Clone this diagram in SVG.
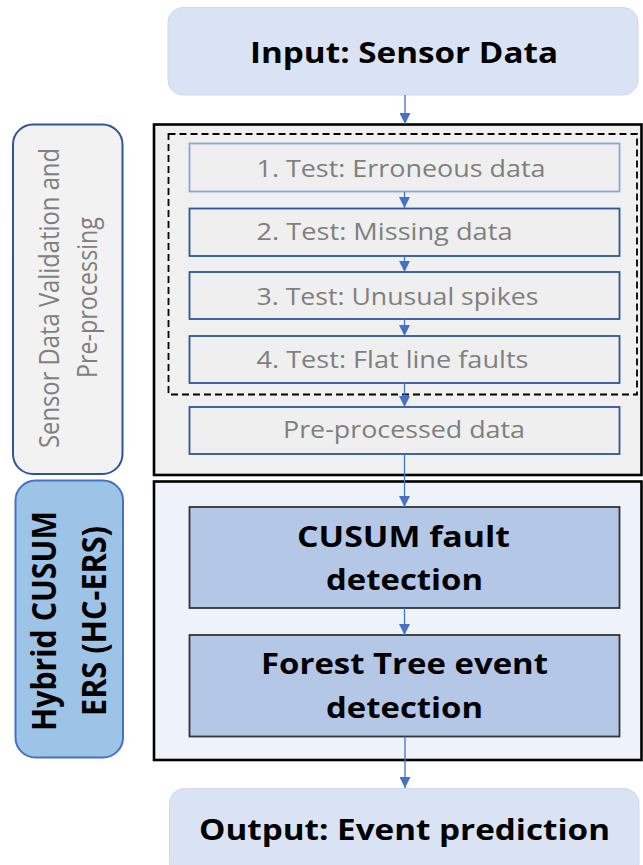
<svg xmlns="http://www.w3.org/2000/svg" width="643" height="865" viewBox="0 0 643 865">
  <style>
    .io { fill: #dae3f3; stroke: #cfd8ea; stroke-width: 1; }
    .frame-a { fill: #f0f0f0; stroke: #000; stroke-width: 2.6; }
    .frame-b { fill: #eef2f9; stroke: #000; stroke-width: 2.6; }
    .dash { fill: none; stroke: #000; stroke-width: 1.8; stroke-dasharray: 7 4; }
    .test { fill: #efefef; stroke: #2f5597; stroke-width: 1.8; }
    .test-light { fill: #efefef; stroke: #8aa5d6; stroke-width: 1.8; }
    .stage { fill: #b4c7e7; stroke: #333; stroke-width: 1.8; }
    .side-a { fill: #f2f2f2; stroke: #2f5597; stroke-width: 2; }
    .side-b { fill: #9dc3e6; stroke: #4472c4; stroke-width: 2; }
    .bold { font-family: "Open Sans", "Noto Sans", sans-serif; font-weight: 700; fill: #000; }
    .grey { font-family: "Open Sans", "Noto Sans", sans-serif; font-weight: 400; fill: #7f7f7f; }
    .conn { stroke: #4472c4; stroke-width: 1.3; fill: none; marker-end: url(#head); }
  </style>
  <defs>
    <marker id="head" markerUnits="userSpaceOnUse" markerWidth="12" markerHeight="11" refX="11" refY="5.5" orient="auto">
      <path d="M0,0 L11,5.5 L0,11 z" fill="#4472c4"/>
    </marker>
  </defs>

  <!-- container frames -->
  <g id="frame-validation">
    <rect class="frame-a" x="154" y="124.5" width="487.5" height="350.5"/>
    <rect class="dash" x="168.5" y="134" width="468.5" height="260.5"/>
  </g>
  <g id="frame-hcers">
    <rect class="frame-b" x="154" y="481.5" width="487.5" height="278.5"/>
  </g>

  <!-- side labels -->
  <g id="label-validation">
    <rect class="side-a" x="13" y="124.5" width="109.5" height="349.5" rx="20"/>
    <g transform="translate(58.5,298) scale(1.12,1) rotate(-90)">
      <text class="grey" x="-150" y="0" font-size="25" textLength="300" lengthAdjust="spacingAndGlyphs">Sensor Data Validation and</text>
    </g>
    <g transform="translate(97,297.5) scale(1.12,1) rotate(-90)">
      <text class="grey" x="-80.5" y="0" font-size="25" textLength="161" lengthAdjust="spacingAndGlyphs">Pre-processing</text>
    </g>
  </g>
  <g id="label-hcers">
    <rect class="side-b" x="15.5" y="480.5" width="107.5" height="277" rx="20"/>
    <g transform="translate(56,621) scale(1.12,1) rotate(-90)">
      <text class="bold" x="-110" y="0" font-size="30" textLength="220" lengthAdjust="spacingAndGlyphs">Hybrid CUSUM</text>
    </g>
    <g transform="translate(105.5,621) scale(1.12,1) rotate(-90)">
      <text class="bold" x="-95" y="0" font-size="30" textLength="190" lengthAdjust="spacingAndGlyphs">ERS (HC-ERS)</text>
    </g>
  </g>

  <!-- nodes -->
  <g id="input">
    <rect class="io" x="168" y="7.5" width="470" height="87.5" rx="15"/>
    <text class="bold" x="250" y="63" font-size="28" textLength="308" lengthAdjust="spacingAndGlyphs">Input: Sensor Data</text>
  </g>
  <g id="test-1">
    <rect class="test-light" x="189.5" y="143.5" width="430" height="48"/>
    <text class="grey" x="256.5" y="177" font-size="24" textLength="289" lengthAdjust="spacingAndGlyphs">1. Test: Erroneous data</text>
  </g>
  <g id="test-2">
    <rect class="test" x="189.5" y="208.5" width="430" height="47.5"/>
    <text class="grey" x="256.5" y="240" font-size="24" textLength="256" lengthAdjust="spacingAndGlyphs">2. Test: Missing data</text>
  </g>
  <g id="test-3">
    <rect class="test" x="189.5" y="272" width="430" height="47"/>
    <text class="grey" x="256.5" y="304.5" font-size="24" textLength="282" lengthAdjust="spacingAndGlyphs">3. Test: Unusual spikes</text>
  </g>
  <g id="test-4">
    <rect class="test" x="189.5" y="336" width="430" height="47"/>
    <text class="grey" x="256.5" y="368" font-size="24" textLength="272" lengthAdjust="spacingAndGlyphs">4. Test: Flat line faults</text>
  </g>
  <g id="preprocessed">
    <rect class="test" x="189.5" y="407" width="430" height="47"/>
    <text class="grey" x="283" y="438" font-size="23" textLength="242" lengthAdjust="spacingAndGlyphs">Pre-processed data</text>
  </g>
  <g id="cusum">
    <rect class="stage" x="189.5" y="507" width="430" height="101"/>
    <text class="bold" x="297" y="547" font-size="29" textLength="213" lengthAdjust="spacingAndGlyphs">CUSUM fault</text>
    <text class="bold" x="326" y="590" font-size="29" textLength="157" lengthAdjust="spacingAndGlyphs">detection</text>
  </g>
  <g id="forest-tree">
    <rect class="stage" x="189.5" y="635" width="430" height="101.5"/>
    <text class="bold" x="261" y="674" font-size="29" textLength="287" lengthAdjust="spacingAndGlyphs">Forest Tree event</text>
    <text class="bold" x="326" y="718" font-size="29" textLength="157" lengthAdjust="spacingAndGlyphs">detection</text>
  </g>
  <g id="output">
    <rect class="io" x="169.5" y="788.5" width="469.5" height="90" rx="15"/>
    <text class="bold" x="199" y="840" font-size="29" textLength="411" lengthAdjust="spacingAndGlyphs">Output: Event prediction</text>
  </g>

  <!-- connectors -->
  <g id="connectors">
    <line class="conn" x1="405" y1="95" x2="405" y2="124"/>
    <line class="conn" x1="404.5" y1="192" x2="404.5" y2="208"/>
    <line class="conn" x1="404.5" y1="256" x2="404.5" y2="272"/>
    <line class="conn" x1="404.5" y1="319" x2="404.5" y2="336"/>
    <line class="conn" x1="404.5" y1="383" x2="404.5" y2="407"/>
    <line class="conn" x1="404.5" y1="454" x2="404.5" y2="507"/>
    <line class="conn" x1="404.5" y1="608" x2="404.5" y2="635"/>
    <line class="conn" x1="405" y1="736.5" x2="405" y2="788"/>
  </g>
</svg>
